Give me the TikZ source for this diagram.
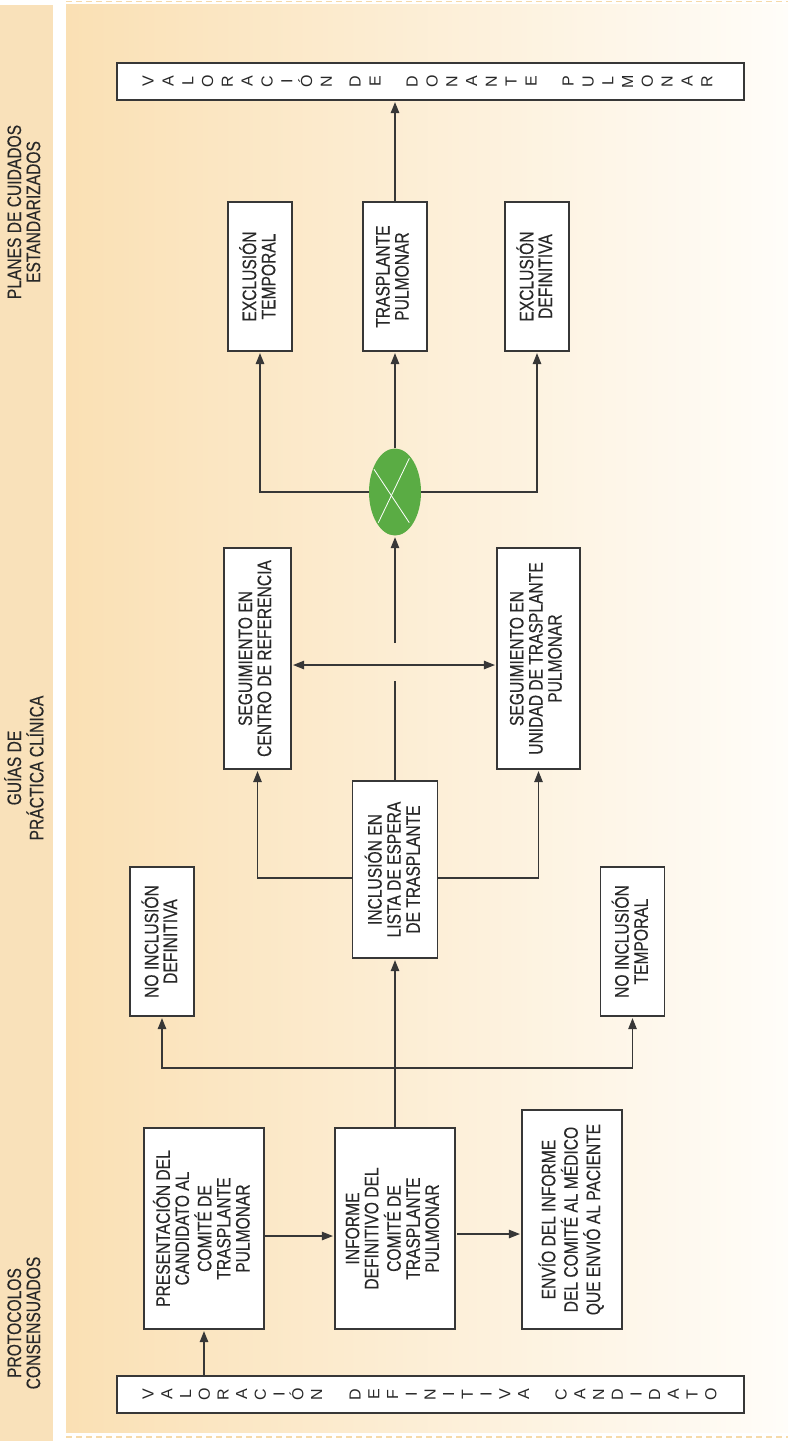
\documentclass[tikz,border=0pt]{standalone}
\usepackage{fontspec}
\usepackage{graphicx}
\setmainfont{Liberation Sans}[FakeStretch=0.80, FakeBold=0.25]
\newfontfamily\ltrfont{Liberation Sans}
\usetikzlibrary{arrows.meta,shapes.geometric,calc}
\definecolor{striptan}{RGB}{249,225,186}
\definecolor{paneltan}{RGB}{250,224,180}
\definecolor{panelmid}{RGB}{252,236,210}
\definecolor{panelend}{RGB}{255,253,249}
\definecolor{dashtan}{RGB}{246,218,170}
\definecolor{ink}{RGB}{40,40,40}
\definecolor{boxline}{RGB}{55,55,55}
\definecolor{leafgreen}{RGB}{90,172,68}
\newcommand\rtext[1]{\rotatebox{90}{\begin{tabular}{@{}c@{}}#1\end{tabular}}}
\begin{document}
\begin{tikzpicture}[x=1pt,y=-1pt,
  font=\fontsize{19.5}{18.3}\selectfont, text=ink,
  box/.style={draw=boxline, line width=1.2pt, fill=white, inner sep=0pt, rectangle},
  conn/.style={draw=boxline, line width=1.1pt},
  arr/.style={conn, -{Triangle[length=11pt,width=8.5pt]}, shorten >=1.5pt},
  dbl/.style={conn, {Triangle[length=11pt,width=8.5pt]}-{Triangle[length=11pt,width=8.5pt]}, shorten >=1.5pt, shorten <=1.5pt},
  ltr/.style={inner sep=0pt, rotate=90, font=\ltrfont\fontsize{16}{16}\selectfont, text height=11.4pt, text depth=0pt},
  lbl/.style={inner sep=0pt}]
\useasboundingbox (0,0) rectangle (788,1441);
% backgrounds
\fill[white] (0,0) rectangle (788,1441);
\fill[striptan] (0,5) rectangle (53,1441);
\shade[left color=paneltan, middle color=panelmid, right color=panelend] (66,4) rectangle (788,1432);
\draw[dashtan, line width=1.5pt, dash pattern=on 6pt off 4pt] (66,1.5) -- (788,1.5);
\draw[dashtan, line width=1.5pt, dash pattern=on 6pt off 4pt] (66,1437) -- (788,1437);
% strip labels
\node[lbl] (lplan) at (26.5,212) {\rtext{PLANES DE CUIDADOS\\ESTANDARIZADOS}};
\node[lbl] (lguia) at (26.5,768) {\rtext{GUÍAS DE\\PRÁCTICA CLÍNICA}};
\node[lbl] (lprot) at (26.5,1323) {\rtext{PROTOCOLOS\\CONSENSUADOS}};
% top long box
\node[box, minimum width=627pt, minimum height=37pt] (vtop) at (430.5,81.5) {};
\foreach \c [count=\i from 0] in {V,A,L,O,R,A,C,I,Ó,N} \node[ltr] (ta\i) at (148+19.8*\i,81.5) {\c};
\foreach \c [count=\i from 0] in {D,E} \node[ltr] (tb\i) at (355+19.8*\i,81.5) {\c};
\foreach \c [count=\i from 0] in {D,O,N,A,N,T,E} \node[ltr] (tc\i) at (412+19.8*\i,81.5) {\c};
\foreach \c [count=\i from 0] in {P,U,L,M,O,N,A,R} \node[ltr] (td\i) at (568+19.8*\i,81.5) {\c};
% outcome boxes
\node[box, minimum width=64pt, minimum height=149pt] (et) at (260,276.5) {\rtext{EXCLUSIÓN\\TEMPORAL}};
\node[box, minimum width=64pt, minimum height=149pt] (tp) at (395,276.5) {\rtext{TRASPLANTE\\PULMONAR}};
\node[box, minimum width=64pt, minimum height=149pt] (ed) at (537,276.5) {\rtext{EXCLUSIÓN\\DEFINITIVA}};
% decision
\node[ellipse, fill=leafgreen, minimum width=52pt, minimum height=87pt, inner sep=0pt] (dec) at (395,492) {};
\draw[white, line width=0.8pt] (374,469.3) -- (409.3,522.7);
\draw[white, line width=0.8pt] (409.3,458.3) -- (378.3,522.7);
% follow-up
\node[box, minimum width=67pt, minimum height=221pt] (sc) at (257.5,658.5) {\rtext{SEGUIMIENTO EN\\CENTRO DE REFERENCIA}};
\node[box, minimum width=83pt, minimum height=221pt] (su) at (538.5,658.5) {\rtext{SEGUIMIENTO EN\\UNIDAD DE TRASPLANTE\\PULMONAR}};
\node[box, minimum width=85pt, minimum height=177pt] (inc) at (395,869.5) {\rtext{INCLUSIÓN EN\\LISTA DE ESPERA\\DE TRASPLANTE}};
\node[box, minimum width=64pt, minimum height=149pt] (nd) at (162,941.5) {\rtext{NO INCLUSIÓN\\DEFINITIVA}};
\node[box, minimum width=64pt, minimum height=149pt] (nt) at (632.5,941.5) {\rtext{NO INCLUSIÓN\\TEMPORAL}};
% committee
\node[box, minimum width=120pt, minimum height=201pt] (pres) at (204,1228.5) {\rtext{PRESENTACIÓN DEL\\CANDIDATO AL\\COMITÉ DE\\TRASPLANTE\\PULMONAR}};
\node[box, minimum width=120pt, minimum height=201pt] (inf) at (395,1228.5) {\rtext{INFORME\\DEFINITIVO DEL\\COMITÉ DE\\TRASPLANTE\\PULMONAR}};
\node[box, minimum width=100pt, minimum height=219pt] (env) at (572,1219.5) {\rtext{ENVÍO DEL INFORME\\DEL COMITÉ AL MÉDICO\\QUE ENVIÓ AL PACIENTE}};
% bottom long box
\node[box, minimum width=627pt, minimum height=37pt] (vbot) at (430.5,1394.5) {};
\foreach \c [count=\i from 0] in {V,A,L,O,R,A,C,I,Ó,N} \node[ltr] (ba\i) at (148+18.7*\i,1394.5) {\c};
\foreach \c [count=\i from 0] in {D,E,F,I,N,I,T,I,V,A} \node[ltr] (bb\i) at (355+18.7*\i,1394.5) {\c};
\foreach \c [count=\i from 0] in {C,A,N,D,I,D,A,T,O} \node[ltr] (bc\i) at (561+18.7*\i,1394.5) {\c};
% helper coordinates
\coordinate (dd) at (395,665);
\coordinate (g1) at (395,681);
\coordinate (g2) at (395,643);
\coordinate (br) at (395,878);
\coordinate (hb) at (395,1068);
\coordinate (pr) at (264,1236);
\coordinate (ie) at (457,1234);
% connectors
\draw[arr] (tp.north) -- (tp.north |- vtop.south);
\draw[arr] (dec.north) -- (tp.south);
\draw[arr] (dec.west) -| (et.south);
\draw[arr] (dec.east) -| (ed.south);
\draw[arr] (g2) -- (dec.south);
\draw[conn] (inc.north) -- (g1);
\draw[dbl] (sc.east |- dd) -- (su.west |- dd);
\draw[arr] (inc.west |- br) -| (sc.south);
\draw[arr] (inc.east |- br) -| (su.south);
\draw[arr] (inf.north) -- (inc.south);
\draw[arr] (hb) -| (nd.south);
\draw[arr] (hb) -| (nt.south);
\draw[arr] (pres.east |- pr) -- (inf.west |- pr);
\draw[arr] (ie) -- (env.west |- ie);
\draw[arr] (vbot.north -| pres.south) -- (pres.south);
\end{tikzpicture}
\end{document}
